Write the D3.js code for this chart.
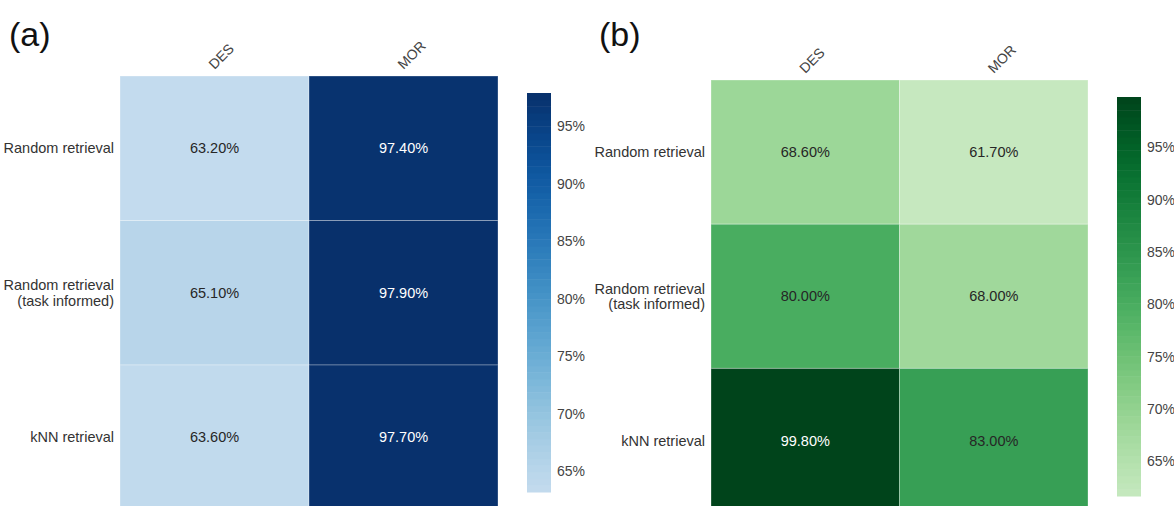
<!DOCTYPE html>
<html>
<head>
<meta charset="utf-8">
<script src="https://cdn.jsdelivr.net/npm/d3@7"></script>
<style>
  body { margin: 0; background: #fff; }
  text { font-family: "Liberation Sans", Arial, sans-serif; }
</style>
</head>
<body>
<div id="chart"></div>
<script>
// data
const rows = ['Random retrieval', 'Random retrieval\n(task informed)', 'kNN retrieval']
const cols = ['DES', 'MOR']
const valuesA = [[63.2, 97.4], [65.1, 97.9], [63.6, 97.7]]
const valuesB = [[68.6, 61.7], [80.0, 68.0], [99.8, 83.0]]
const cbarTicks = [65, 70, 75, 80, 85, 90, 95]

const W = 1174, H = 506

const svg = d3.select('#chart').append('svg')
  .attr('width', W)
  .attr('height', H)

// truncated colour maps (light end cut off like the original)
const cut = 0.25
const blues = t => d3.interpolateBlues(cut + (1 - cut) * t)
const greens = t => d3.interpolateGreens(cut + (1 - cut) * t)

function drawPanel (opt) {
  const vals = opt.values.flat()
  const vmin = d3.min(vals), vmax = d3.max(vals)
  const color = d3.scaleSequential(opt.interp).domain([vmin, vmax])

  const x = d3.scaleBand().domain(cols).range([opt.left, opt.right])
  const y = d3.scaleBand().domain(rows).range([opt.top, opt.top + 3 * opt.rowH])

  const g = svg.append('g')

  // panel letter
  g.append('text')
    .attr('x', opt.letterX)
    .attr('y', 46)
    .attr('font-size', 34)
    .attr('fill', '#111')
    .text(opt.letter)

  const cells = []
  opt.values.forEach((r, i) => r.forEach((v, j) => cells.push({ row: rows[i], col: cols[j], v })))

  g.selectAll('rect.cell')
    .data(cells)
    .enter()
    .append('rect')
    .attr('class', 'cell')
    .attr('x', d => x(d.col))
    .attr('y', d => y(d.row))
    .attr('width', x.bandwidth())
    .attr('height', y.bandwidth())
    .attr('fill', d => color(d.v))
    .attr('stroke', 'rgba(255,255,255,0.3)')
    .attr('stroke-width', 1)

  g.selectAll('text.annot')
    .data(cells)
    .enter()
    .append('text')
    .attr('class', 'annot')
    .attr('x', d => x(d.col) + x.bandwidth() / 2)
    .attr('y', d => y(d.row) + y.bandwidth() / 2)
    .attr('dy', '0.35em')
    .attr('text-anchor', 'middle')
    .attr('font-size', 14.5)
    .attr('fill', d => (d.v - vmin) / (vmax - vmin) > 0.6 ? '#fff' : '#262626')
    .text(d => d.v.toFixed(2) + '%')

  // row labels
  const rowLab = g.selectAll('text.rowlab')
    .data(rows)
    .enter()
    .append('text')
    .attr('class', 'rowlab')
    .attr('text-anchor', 'end')
    .attr('font-size', 14.5)
    .attr('fill', '#333')
  rowLab.each(function (d) {
    const lines = d.split('\n')
    const cy = y(d) + y.bandwidth() / 2
    lines.forEach((l, k) => {
      d3.select(this).append('tspan')
        .attr('x', opt.left - 6)
        .attr('y', cy + (k - (lines.length - 1) / 2) * 15.5)
        .attr('dy', '0.35em')
        .text(l)
    })
  })

  // column labels, rotated
  g.selectAll('text.collab')
    .data(cols)
    .enter()
    .append('text')
    .attr('class', 'collab')
    .attr('font-size', 14)
    .attr('fill', '#444')
    .attr('transform', d => `translate(${x(d) + x.bandwidth() / 2}, ${opt.top - 6}) rotate(-45)`)
    .text(d => d)

  // colour bar
  const cb = d3.scaleLinear().domain([vmin, vmax]).range([opt.cbBottom, opt.cbTop])
  const nBands = 60
  const bands = d3.range(nBands).map(i => vmin + (vmax - vmin) * (i + 0.5) / nBands)
  const bandH = (opt.cbBottom - opt.cbTop) / nBands
  g.selectAll('rect.band')
    .data(bands)
    .enter()
    .append('rect')
    .attr('x', opt.cbX)
    .attr('y', d => cb(d) - bandH / 2)
    .attr('width', 24)
    .attr('height', bandH + 0.5)
    .attr('fill', d => color(d))

  const axis = g.append('g')
    .attr('transform', `translate(${opt.cbX + 24}, 0)`)
    .call(d3.axisRight(cb).tickValues(cbarTicks).tickSize(0).tickPadding(6).tickFormat(d => d + '%'))
  axis.select('.domain').remove()
  axis.selectAll('text')
    .attr('font-size', 14)
    .attr('fill', '#444')
    .style('font-family', '"Liberation Sans", Arial, sans-serif')
}

drawPanel({
  letter: '(a)', letterX: 9,
  values: valuesA, interp: blues,
  left: 120, right: 498, top: 76, rowH: 144.5,
  cbX: 527, cbTop: 93, cbBottom: 492
})

drawPanel({
  letter: '(b)', letterX: 599,
  values: valuesB, interp: greens,
  left: 711, right: 1088, top: 80, rowH: 144.2,
  cbX: 1117, cbTop: 97, cbBottom: 496
})
</script>
</body>
</html>
